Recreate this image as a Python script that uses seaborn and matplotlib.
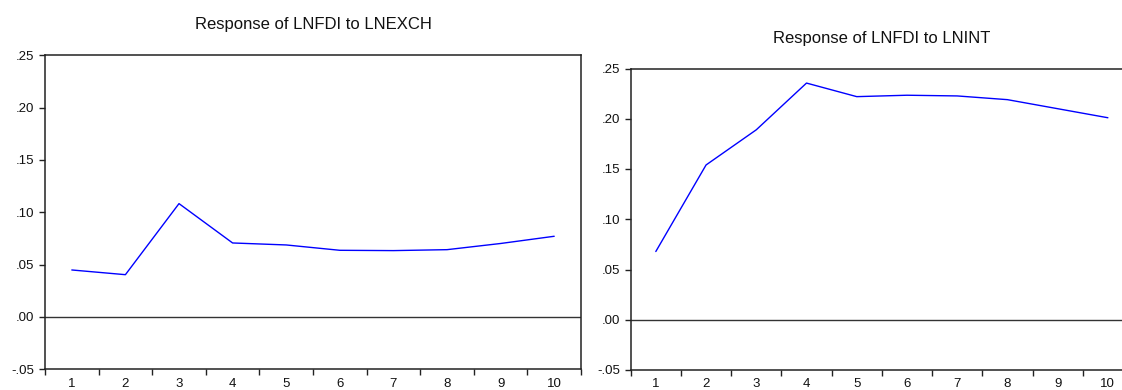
import numpy as np
import pandas as pd
import matplotlib
matplotlib.use("Agg")
import matplotlib.pyplot as plt
import seaborn as sns
from matplotlib.ticker import FuncFormatter

periods = [1, 2, 3, 4, 5, 6, 7, 8, 9, 10]
resp_exch = [0.0449, 0.0404, 0.1083, 0.0707, 0.0688, 0.0637, 0.0634, 0.0643, 0.0702, 0.0771]
resp_int = [0.0679, 0.1540, 0.1890, 0.2355, 0.2220, 0.2234, 0.2227, 0.2190, 0.2100, 0.2010]
titles = ["Response of LNFDI to LNEXCH", "Response of LNFDI to LNINT"]
yticks = [-0.05, 0.00, 0.05, 0.10, 0.15, 0.20, 0.25]

sns.set_style("white")
plt.rcParams['font.family'] = ['Liberation Sans', 'DejaVu Sans']

W, H = 1122, 390
fig = plt.figure(figsize=(W / 100, H / 100), dpi=100)

def frac(l, t, r, b):
    return [l / W, 1 - b / H, (r - l) / W, (b - t) / H]

ax1 = fig.add_axes(frac(45, 55.3, 581, 369.3))
ax2 = fig.add_axes(frac(630.7, 68.5, 1133, 370))

def fmt(v, pos):
    s = "%.2f" % v
    if s.startswith("-0"):
        return "-" + s[2:]
    if s.startswith("0"):
        return s[1:]
    return s

for ax, vals, title, pad in [(ax1, resp_exch, titles[0], 19.0), (ax2, resp_int, titles[1], 18.0)]:
    df = pd.DataFrame({"period": periods, "response": vals})
    sns.lineplot(data=df, x="period", y="response", ax=ax, color="#0000FF", linewidth=1.0)
    ax.axhline(0, color="#333333", linewidth=1.0, zorder=1)
    ax.set_xlim(0.5, 10.5)
    ax.set_ylim(-0.05, 0.25)
    ax.set_xticks(periods)
    ax.set_xticks(np.arange(0.5, 11, 1.0), minor=True)
    ax.set_yticks(yticks)
    ax.yaxis.set_major_formatter(FuncFormatter(fmt))
    ax.tick_params(axis="x", which="major", length=0, pad=6.0, labelsize=9.5, colors="#111111")
    ax.tick_params(axis="x", which="minor", length=4, width=1, direction="out", bottom=True, color="#222222")
    ax.tick_params(axis="y", which="major", length=4.5, width=1, direction="out", left=True, pad=3,
                   labelsize=9.5, color="#222222", labelcolor="#111111")
    ax.set_xlabel("")
    ax.set_ylabel("")
    for sp in ax.spines.values():
        sp.set_visible(True)
        sp.set_color("#222222")
        sp.set_linewidth(1.1)
    ax.set_title(title, fontsize=12, pad=pad, color="#111111")

fig.savefig("out.png", dpi=100)
